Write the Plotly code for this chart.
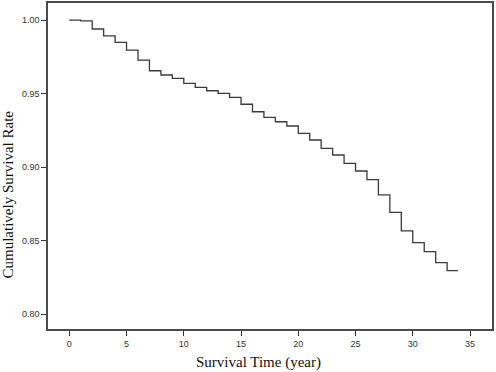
import plotly.graph_objects as go

# Step times (years) and cumulative survival after each step
step_times = [0, 1, 2, 3, 4, 5, 6, 7, 8, 9, 10, 11, 12, 13, 14, 15, 16, 17,
              18, 19, 20, 21, 22, 23, 24, 25, 26, 27, 28, 29, 30, 31, 32, 33, 33.95]
survival = [1.000, 0.9995, 0.9939, 0.9893, 0.9848, 0.9796, 0.9728, 0.9655,
            0.9626, 0.9603, 0.9569, 0.9542, 0.9519, 0.9501, 0.9474, 0.9427,
            0.9376, 0.9338, 0.9308, 0.9279, 0.9229, 0.9184, 0.9127, 0.9082,
            0.9025, 0.8973, 0.8914, 0.8810, 0.8692, 0.8565, 0.8485, 0.8424,
            0.8349, 0.8295, 0.8295]
x_ticks = [0, 5, 10, 15, 20, 25, 30, 35]
y_ticks = [0.80, 0.85, 0.90, 0.95, 1.00]
x_title = "Survival Time (year)"
y_title = "Cumulatively Survival Rate"

fig = go.Figure()
fig.add_trace(go.Scatter(
    x=step_times, y=survival, mode="lines",
    line=dict(shape="hv", color="#3a3a3a", width=1.3),
    showlegend=False, hoverinfo="skip"))

axis_common = dict(
    showline=True, mirror=True, linecolor="#4a4a4a", linewidth=1.5,
    showgrid=False, zeroline=False, ticks="outside", ticklen=5,
    tickcolor="#333333", tickwidth=1, automargin=False,
    tickfont=dict(family="Liberation Sans, Arial, sans-serif", size=9, color="#333333"),
)

title_font = dict(family="Liberation Serif, Times New Roman, serif", size=15, color="#111111")

fig.update_layout(
    width=496, height=372,
    margin=dict(l=48, r=4, t=3, b=43),
    paper_bgcolor="white", plot_bgcolor="white",
    xaxis=dict(axis_common, range=[-1.86, 36.92], tickvals=x_ticks),
    yaxis=dict(axis_common, range=[0.7898, 1.0116], tickvals=y_ticks, tickformat=".2f"),
    annotations=[
        dict(text=x_title, xref="paper", yref="paper", x=0.475, y=-0.072,
             xanchor="center", yanchor="top", showarrow=False, font=title_font),
        dict(text=y_title, xref="paper", yref="paper", x=-0.089, y=0.414,
             xanchor="center", yanchor="middle", textangle=-90, showarrow=False, font=title_font),
    ],
)

fig.write_html("out.html", config={"displayModeBar": False},
               post_script="document.body.style.margin='0';document.body.style.overflow='hidden';")
